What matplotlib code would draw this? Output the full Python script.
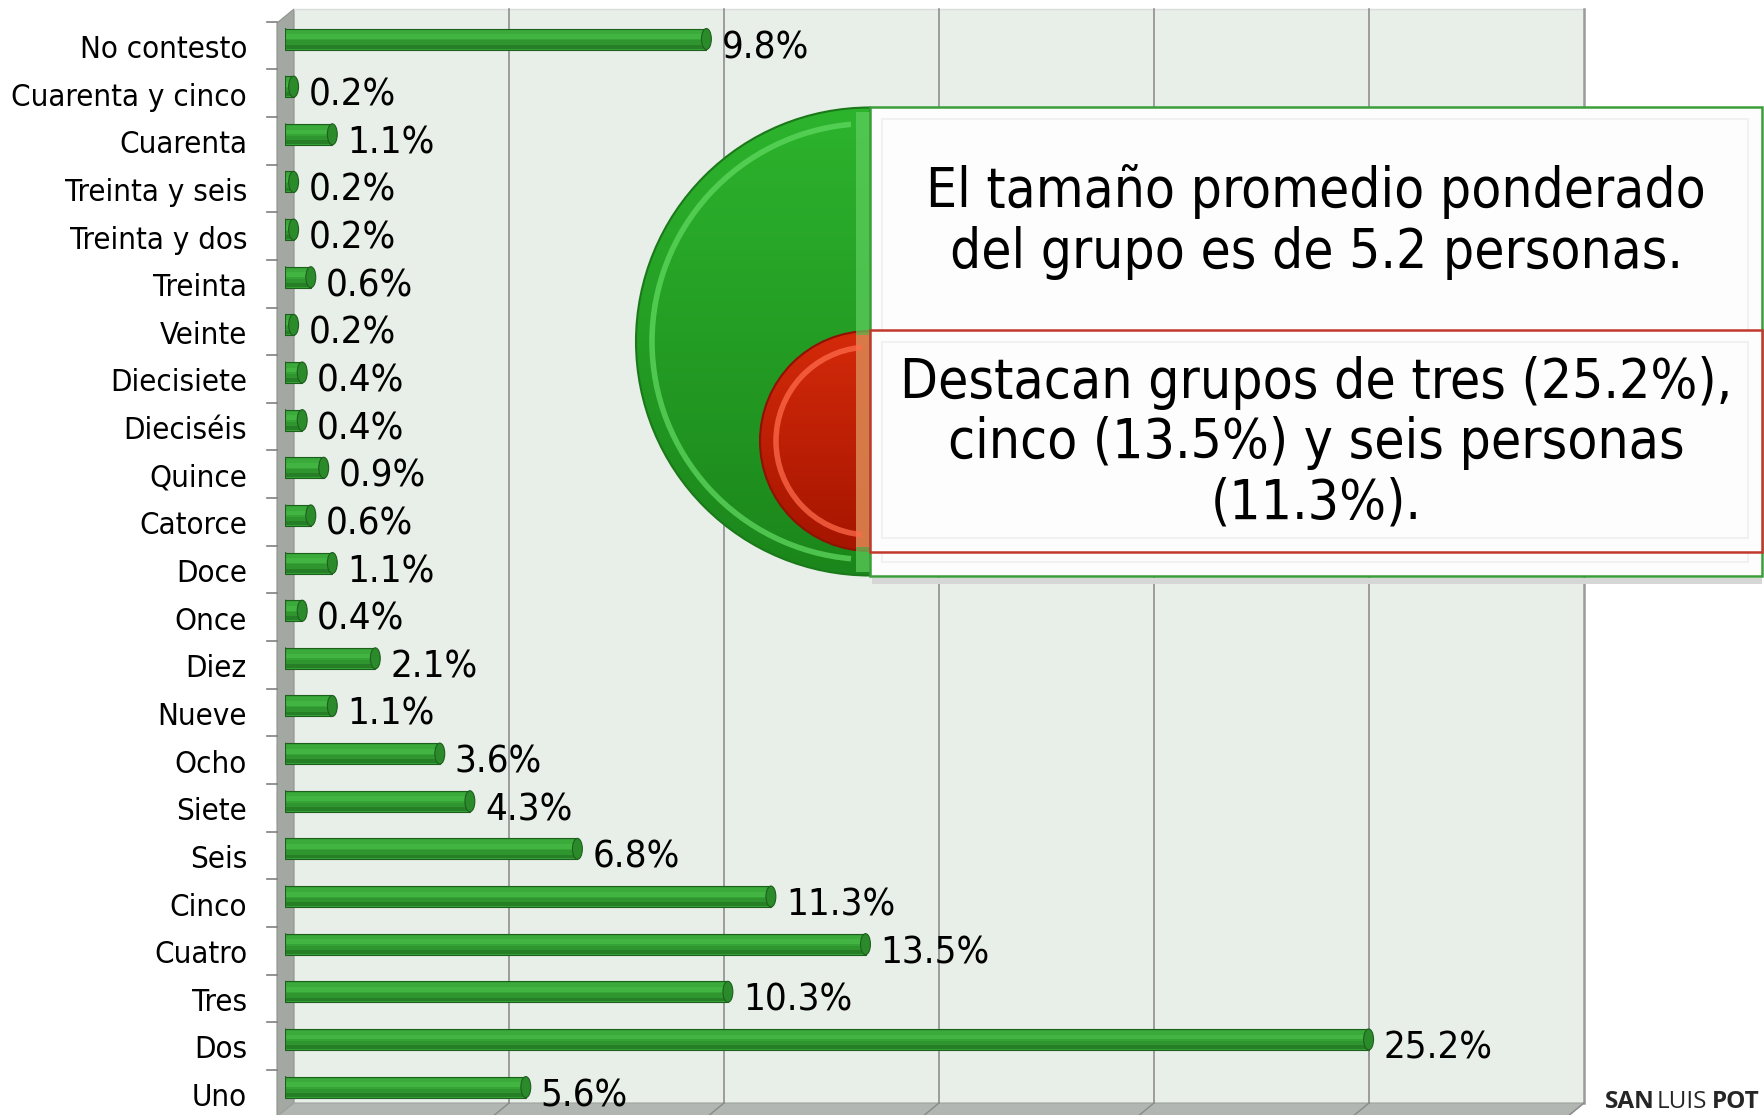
import numpy as np
import matplotlib
matplotlib.use('agg')
import matplotlib.pyplot as plt
from matplotlib import patches, transforms, font_manager
from matplotlib.colors import LinearSegmentedColormap

categories = ['No contesto', 'Cuarenta y cinco', 'Cuarenta', 'Treinta y seis',
              'Treinta y dos', 'Treinta', 'Veinte', 'Diecisiete', 'Dieciséis',
              'Quince', 'Catorce', 'Doce', 'Once', 'Diez', 'Nueve', 'Ocho',
              'Siete', 'Seis', 'Cinco', 'Cuatro', 'Tres', 'Dos', 'Uno']
values = [9.8, 0.2, 1.1, 0.2, 0.2, 0.6, 0.2, 0.4, 0.4, 0.9, 0.6, 1.1, 0.4,
          2.1, 1.1, 3.6, 4.3, 6.8, 11.3, 13.5, 10.3, 25.2, 5.6]
grid_ticks = [5, 10, 15, 20, 25, 30]

note_1 = ['El tamaño promedio ponderado', 'del grupo es de 5.2 personas.']
note_2 = ['Destacan grupos de tres (25.2%),', 'cinco (13.5%) y seis personas',
          '(11.3%).']

# pick a narrow font close to Tahoma
have = {(f.name, f.stretch) for f in font_manager.fontManager.ttflist}
if ('DejaVu Sans', 'condensed') in have:
    FONT = dict(family='DejaVu Sans', stretch='condensed')
    k = 1.0
else:
    FONT = dict(family='DejaVu Sans')
    k = 0.9

W, H = 1764, 1115
fig = plt.figure(figsize=(W / 100, H / 100), dpi=100)
fig.patch.set_facecolor('white')

# pixel-space layer for the 3d box
bg = fig.add_axes([0, 0, 1, 1], zorder=0)
bg.set_xlim(0, W)
bg.set_ylim(H, 0)
bg.axis('off')

x0 = 285          # pixel of 0% on bar plane
ppu = 43.0        # pixels per percent
back_l, back_r, back_t, back_b = 294, 1584, 9, 1103
front_l = 277

bg.add_patch(patches.Rectangle((back_l, back_t), back_r - back_l, back_b - back_t,
                               fc='#e8eee8', ec='none'))
bg.plot([back_l, back_r], [back_t, back_t], color='#d9ddd9', lw=1)
bg.add_patch(patches.Polygon([(front_l, 23), (back_l, back_t), (back_l, back_b),
                              (front_l, 1117)], fc='#a3a8a3', ec='#8f948f', lw=0.8))
bg.add_patch(patches.Polygon([(front_l, 1117), (back_l, back_b), (back_r, back_b),
                              (back_r - 17, 1117)], fc='#b2b6b2', ec='#a0a4a0', lw=0.8))
for t in grid_ticks:
    gx = back_l + ppu * t
    col = '#8f8f8f' if t < 30 else '#9a9a9a'
    bg.plot([gx, gx], [back_t, back_b], color=col, lw=1.2 if t < 30 else 1.8)
    bg.plot([gx, gx - 17], [back_b, 1117], color='#8a8a8a', lw=1.0)
for j in range(len(categories) + 1):
    ty = 21.7 + 47.64 * j
    bg.plot([267, front_l], [ty, ty], color='#808080', lw=1.2)

# bars
ax = fig.add_axes([x0 / W, (H - 1110.9) / H, 30 * ppu / W, 1095.7 / H], zorder=1)
ax.patch.set_alpha(0)
pos = np.arange(len(categories))
bh = 0.44
ax.barh(pos, values, height=bh, color='#36a336', linewidth=0, zorder=3)
# cylinder shading bands
for off, hh, col in [(-0.13, 0.1, '#3aaa3a'), (-0.05, 0.1, '#41b441'),
                     (0.08, 0.1, '#2f962f'), (0.16, 0.08, '#267f26')]:
    ax.barh(pos + off, values, height=hh, color=col, linewidth=0, zorder=3.5)
ax.barh(pos, values, height=bh, color='none', edgecolor='#1d5f1d',
        linewidth=0.8, zorder=4)
for p, v in zip(pos, values):
    ax.add_patch(patches.Ellipse((0, p), 0.14, bh, fc='#36a336', ec='#1d5f1d',
                                 lw=0.8, zorder=2))
    ax.add_patch(patches.Ellipse((v, p), 0.23, bh, fc='#2b8b2b', ec='#1d5f1d',
                                 lw=0.8, zorder=5))

val_tr = transforms.offset_copy(ax.transData, fig=fig, x=15, y=-19, units='dots')
for p, v in zip(pos, values):
    ax.text(v, p, f'{v:.1f}%', transform=val_tr, ha='left', va='baseline',
            fontsize=27.5 * k, color='black', zorder=6, **FONT)

lab_tr = transforms.offset_copy(ax.get_yaxis_transform(), fig=fig, x=-38, y=-19,
                                units='dots')
for p, c in zip(pos, categories):
    ax.text(0, p, c, transform=lab_tr, ha='right', va='baseline',
            fontsize=22.4 * k, color='black', **FONT)

ax.set_xlim(0, 30)
ax.set_ylim(len(categories) - 0.5, -0.5)
ax.axis('off')

# callout
fg = fig.add_axes([0, 0, 1, 1], zorder=3)
fg.patch.set_alpha(0)
fg.axis('off')


def half_disc(cx, cy, r, light, dark, rim, shine, strip):
    w = patches.Wedge((cx, cy), r, 90, 270, fc='none', ec=rim, lw=1.5, zorder=2)
    fg.add_patch(w)
    grad = np.linspace(0, 1, 256).reshape(-1, 1)
    cm = LinearSegmentedColormap.from_list('g', [light, dark])
    im = fg.imshow(grad, extent=[cx - r, cx, cy + r, cy - r], cmap=cm,
                   aspect='auto', zorder=1)
    im.set_clip_path(w)
    fg.add_patch(patches.Arc((cx, cy), 2 * (r - 16), 2 * (r - 16), theta1=95,
                             theta2=265, color=shine, lw=4, alpha=0.75, zorder=3))
    fg.add_patch(patches.Rectangle((cx - 14, cy - r + 4), 14, 2 * r - 8, fc=strip,
                                   ec='none', alpha=0.7, zorder=3))


def note_box(x, y, w, h, edge):
    fg.add_patch(patches.Rectangle((x, y), w, h, fc='#fdfdfd', ec=edge, lw=1.8,
                                   zorder=4))
    fg.add_patch(patches.Rectangle((x + 12, y + 12), w - 26, h - 26, fc='none',
                                   ec='#efefef', lw=1.2, zorder=4))


fg.add_patch(patches.Rectangle((872, 578), 890, 6, fc='#d6d6d6', ec='none', zorder=0))
half_disc(870, 341.5, 234, '#2db42d', '#1b861b', '#1a7a1a', '#5fd85f', '#5fcf5f')
note_box(870, 107, 892, 469, '#3a9e3a')
half_disc(870, 441, 110, '#d42a0a', '#a51500', '#8e1200', '#ff6a4a', '#ff6a4a')
note_box(870, 330, 892, 222, '#c0392b')

for line, by in zip(note_1, [207, 268]):
    fg.text(1316, by, line, ha='center', va='baseline', fontsize=39.3 * k,
            color='black', zorder=6, **FONT)
for line, by in zip(note_2, [398, 458, 519]):
    fg.text(1316, by, line, ha='center', va='baseline', fontsize=39.5 * k,
            color='black', zorder=6, **FONT)

fg.text(1605, 1108, 'SAN', ha='left', va='baseline', fontsize=17.5,
        fontweight='bold', color='#262626', family='Open Sans')
fg.text(1657, 1108, 'LUIS', ha='left', va='baseline', fontsize=17.5,
        color='#262626', family='Open Sans')
fg.text(1712, 1108, 'POT', ha='left', va='baseline', fontsize=17.5,
        fontweight='bold', color='#262626', family='Open Sans')

fg.set_xlim(0, W)
fg.set_ylim(H, 0)

fig.savefig('out.png', dpi=100, facecolor='white')
